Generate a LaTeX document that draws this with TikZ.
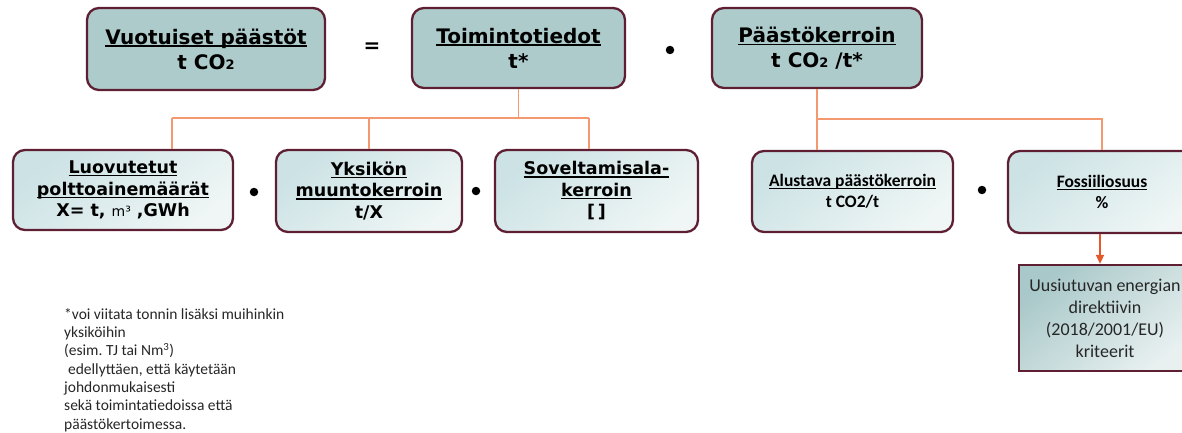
\documentclass[tikz,border=0pt]{standalone}
\usepackage{fontspec}
\setmainfont{DejaVu Sans}
\newfontfamily\calfont{Carlito}
\usetikzlibrary{arrows.meta}
\frenchspacing
\definecolor{topfill}{HTML}{ADCBCB}
\definecolor{boxline}{HTML}{5E1F33}
\definecolor{lowA}{HTML}{CCE2E5}
\definecolor{lowB}{HTML}{EFF6F5}
\definecolor{critA}{HTML}{A9C8C9}
\definecolor{critB}{HTML}{E8F0F0}
\definecolor{conn}{HTML}{F4996F}
\definecolor{arr}{HTML}{E3592A}
\definecolor{txtgray}{HTML}{262626}
\newcommand\myul[1]{\leavevmode\setbox0\hbox{#1}\rlap{\rule[-2.6pt]{\wd0}{1.2pt}}\box0}
\tikzset{
  topbox/.style={draw=boxline, line width=2.3pt, fill=topfill, rounded corners=12pt,
    align=center, inner sep=0pt, font=\fontsize{20}{25}\selectfont\bfseries},
  lowbox/.style={draw=boxline, line width=2.3pt, rounded corners=12pt,
    top color=lowA, bottom color=lowB, shading angle=40,
    align=center, inner sep=0pt, font=\fontsize{17.5}{21.5}\selectfont\bfseries},
  calbox/.style={lowbox, font=\calfont\fontsize{17.5}{21}\selectfont\bfseries},
  critbox/.style={draw=boxline, line width=2.3pt, top color=critA, bottom color=critB,
    shading angle=40, align=center, inner sep=0pt, text=txtgray,
    font=\calfont\fontsize{18}{22}\selectfont},
  opsym/.style={inner sep=0pt, font=\fontsize{20}{20}\selectfont\bfseries},
  bullet/.style={circle, fill=black, inner sep=0pt, minimum size=8.5pt},
  connline/.style={draw=conn, line width=1.8pt},
  arrline/.style={draw=arr, line width=1.6pt, -{Triangle[length=9pt,width=8pt]}},
}
\newcommand\subtwo{{\fontsize{13}{13}\selectfont 2}}
\begin{document}
\begin{tikzpicture}[x=1pt,y=-1pt]
\useasboundingbox (0,0) rectangle (1182,433);
% top row
\node[topbox, minimum width=238pt, minimum height=82pt] (vuo) at (206,49)
  {\myul{Vuotuiset päästöt}\\t CO\subtwo};
\node[opsym] (eq) at (372,48) {=};
\node[topbox, minimum width=213pt, minimum height=80pt] (toim) at (518.5,48)
  {\myul{Toimintotiedot}\\t*};
\node[bullet] (d0) at (670,50) {};
\node[topbox, minimum width=210pt, minimum height=80pt] (paa) at (817,48)
  {\myul{Päästökerroin}\\t CO\subtwo{} /t*};
% lower left row
\node[lowbox, minimum width=220pt, minimum height=80pt] (luo) at (123,190)
  {\myul{Luovutetut}\\\myul{polttoainemäärät}\\X= t, {\fontsize{14}{14}\selectfont\mdseries m³} ,GWh};
\node[bullet] (d1) at (254,192) {};
\node[lowbox, minimum width=186pt, minimum height=82pt] (yks) at (369,191)
  {\myul{Yksikön}\\\myul{muuntokerroin}\\t/X};
\node[bullet] (d2) at (476,191) {};
\node[lowbox, minimum width=203pt, minimum height=82pt] (sov) at (596.5,191)
  {\myul{Soveltamisala-}\\\myul{kerroin}\\{[\,]}};
% lower right row
\node[calbox, minimum width=201pt, minimum height=81pt] (alu) at (852.5,191.5)
  {\myul{Alustava päästökerroin}\\t CO2/t};
\node[bullet] (d3) at (982,190) {};
\node[calbox, minimum width=188pt, minimum height=82pt] (fos) at (1102,192)
  {\myul{Fossiiliosuus}\\\%};
\node[critbox, minimum width=172pt, minimum height=106pt] (cri) at (1105,318)
  {Uusiutuvan energian\\direktiivin\\(2018/2001/EU)\\kriteerit};
% connectors
\coordinate (hl) at (172,118);
\coordinate (hr) at (589,118);
\coordinate (ha) at (817,119);
\coordinate (hf) at (1102,119);
\coordinate (ax) at (1100,0);
\draw[connline] (hl) -- (hr);
\draw[connline] (toim.south) -- (toim.south |- hl);
\draw[connline] (hl) -- (hl |- luo.north);
\draw[connline] (yks.north |- hl) -- (yks.north);
\draw[connline] (hr) -- (hr |- sov.north);
\draw[connline] (paa.south) -- (paa.south |- alu.north);
\draw[connline] (ha) -- (hf) -- (fos.north);
\draw[arrline] (fos.south -| ax) -- (cri.north -| ax);
% footnote
\node[anchor=north west, align=left, inner sep=0pt, text=txtgray,
  font=\calfont\fontsize{15.5}{18.3}\selectfont] (note) at (64,308)
  {*voi viitata tonnin lisäksi muihinkin\\yksiköihin\\(esim. TJ tai Nm\textsuperscript{3})\\\hspace{0.25em}edellyttäen, että käytetään\\johdonmukaisesti\\sekä toimintatiedoissa että\\päästökertoimessa.};
\end{tikzpicture}
\end{document}
